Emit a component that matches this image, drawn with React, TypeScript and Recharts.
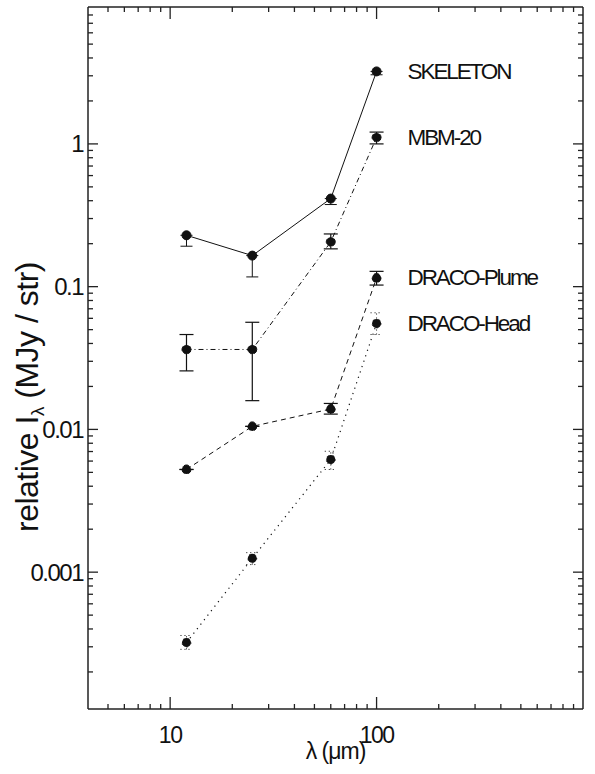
import React from "react";
import { LineChart, Line, XAxis, YAxis, ErrorBar, LabelList } from "recharts";

// wavelengths (µm) and relative intensities
const wavelengths = [12, 25, 60, 100];
const seriesNames = ["SKELETON", "MBM-20", "DRACO-Plume", "DRACO-Head"];

const skeleton = [0.229, 0.165, 0.414, 3.22];
const skeletonLow = [0.192, 0.117, 0.376, 3.05];
const skeletonHigh = [0.229, 0.165, 0.414, 3.22];

const mbm20 = [0.0363, 0.0363, 0.206, 1.11];
const mbm20Low = [0.0257, 0.0159, 0.184, 1.0];
const mbm20High = [0.0462, 0.0563, 0.234, 1.21];

const dracoPlume = [0.00524, 0.0105, 0.0139, 0.115];
const dracoPlumeLow = [0.00524, 0.0105, 0.0128, 0.1026];
const dracoPlumeHigh = [0.00524, 0.0105, 0.0152, 0.128];

const dracoHead = [0.000321, 0.00125, 0.00615, 0.0552];
const dracoHeadLow = [0.000288, 0.00113, 0.00524, 0.0462];
const dracoHeadHigh = [0.00036, 0.00137, 0.00703, 0.0656];

const xTicks = [5, 6, 7, 8, 9, 10, 20, 30, 40, 50, 60, 70, 80, 90, 100, 200, 300, 400, 500, 600, 700, 800, 900];
const xTickLabels: Record<number, string> = { 10: "10", 100: "100" };
const yTicks = [
  0.0002, 0.0003, 0.0004, 0.0005, 0.0006, 0.0007, 0.0008, 0.0009,
  0.001, 0.002, 0.003, 0.004, 0.005, 0.006, 0.007, 0.008, 0.009,
  0.01, 0.02, 0.03, 0.04, 0.05, 0.06, 0.07, 0.08, 0.09,
  0.1, 0.2, 0.3, 0.4, 0.5, 0.6, 0.7, 0.8, 0.9,
  1, 2, 3, 4, 5, 6, 7, 8,
];
const yTickLabels: Record<number, string> = { 0.001: "0.001", 0.01: "0.01", 0.1: "0.1", 1: "1" };

const X_DOMAIN = [4, 1000];
const Y_DOMAIN = [0.00011, 9.1];

const errPair = (v: number, lo: number, hi: number) => [v - lo, hi - v];

const data = wavelengths.map((w, i) => ({
  x: w,
  ske: skeleton[i],
  skeErr: errPair(skeleton[i], skeletonLow[i], skeletonHigh[i]),
  mbm: mbm20[i],
  mbmErr: errPair(mbm20[i], mbm20Low[i], mbm20High[i]),
  plume: dracoPlume[i],
  plumeErr: errPair(dracoPlume[i], dracoPlumeLow[i], dracoPlumeHigh[i]),
  head: dracoHead[i],
  headErr: errPair(dracoHead[i], dracoHeadLow[i], dracoHeadHigh[i]),
}));

const FONT = "'Liberation Sans', Arial, Helvetica, sans-serif";
const INK = "#111";
const AXIS = "#222";

const isMajor = (v: number) => Math.abs(Math.log10(v) - Math.round(Math.log10(v))) < 1e-6;

const BottomTick = ({ x, y, payload }: any) => {
  const v = payload.value;
  const major = isMajor(v);
  return (
    <g>
      <line x1={x} y1={y} x2={x} y2={y - (major ? 12 : 5)} stroke={AXIS} strokeWidth={1.3} />
      {xTickLabels[v] && (
        <text x={x} y={y + 34} textAnchor="middle" fontFamily={FONT} fontSize={23} letterSpacing={-1.5} fill={INK}>
          {xTickLabels[v]}
        </text>
      )}
    </g>
  );
};

const TopTick = ({ x, y, payload }: any) => {
  const major = isMajor(payload.value);
  return <line x1={x} y1={y} x2={x} y2={y + (major ? 12 : 5)} stroke={AXIS} strokeWidth={1.3} />;
};

const LeftTick = ({ x, y, payload }: any) => {
  const v = payload.value;
  const major = isMajor(v);
  return (
    <g>
      <line x1={x} y1={y} x2={x + (major ? 10 : 5)} y2={y} stroke={AXIS} strokeWidth={1.3} />
      {yTickLabels[v] && (
        <text x={x - 5} y={y + 8.5} textAnchor="end" fontFamily={FONT} fontSize={24} letterSpacing={-1.5} fill={INK}>
          {yTickLabels[v]}
        </text>
      )}
    </g>
  );
};

const RightTick = ({ x, y, payload }: any) => {
  const major = isMajor(payload.value);
  return <line x1={x} y1={y} x2={x - (major ? 10 : 5)} y2={y} stroke={AXIS} strokeWidth={1.3} />;
};

const nameLabel = (name: string) => (props: any) => {
  const { x, y, index } = props;
  if (index !== wavelengths.length - 1) return null;
  return (
    <text x={x + 31} y={y + 7.5} fontFamily={FONT} fontSize={22.5} letterSpacing={-2.1} fill={INK}>
      {name}
    </text>
  );
};

const YLabel = () => {
  const cx = 38;
  const cy = 397;
  return (
    <text
      x={cx}
      y={cy}
      transform={`rotate(-90 ${cx} ${cy})`}
      textAnchor="middle"
      fontFamily={FONT}
      fontSize={32}
      letterSpacing={-0.5}
      fill={INK}
    >
      relative I
      <tspan fontSize={19} dy={6}>λ</tspan>
      <tspan dy={-6}> (MJy / str)</tspan>
    </text>
  );
};

const XLabel = ({ viewBox }: any) => {
  const cx = viewBox.x + viewBox.width / 2;
  return (
    <text x={cx} y={viewBox.y + 50} textAnchor="middle" fontFamily={FONT} fontSize={23} letterSpacing={-1} fill={INK}>
      λ (μm)
    </text>
  );
};

const dot = { r: 4.5, fill: INK, stroke: INK, strokeWidth: 1 };

export default function App() {
  return (
    <div style={{ position: "absolute", left: 0, top: 0, background: "#fff" }}>
      <LineChart width={595} height={774} data={data} margin={{ top: 0, right: 0, bottom: 0, left: 0 }}>
        <XAxis
          dataKey="x"
          type="number"
          scale="log"
          domain={X_DOMAIN}
          allowDataOverflow
          ticks={xTicks}
          interval={0}
          height={65}
          tickSize={0}
          tickMargin={0}
          tickLine={false}
          tick={BottomTick}
          axisLine={{ stroke: AXIS, strokeWidth: 1.5 }}
          label={<XLabel />}
        />
        <XAxis
          xAxisId="top"
          orientation="top"
          dataKey="x"
          type="number"
          scale="log"
          domain={X_DOMAIN}
          allowDataOverflow
          ticks={xTicks}
          interval={0}
          height={7}
          tickSize={0}
          tickMargin={0}
          tickLine={false}
          tick={TopTick}
          axisLine={{ stroke: AXIS, strokeWidth: 1.5 }}
        />
        <YAxis
          type="number"
          scale="log"
          domain={Y_DOMAIN}
          allowDataOverflow
          ticks={yTicks}
          interval={0}
          width={88}
          tickSize={0}
          tickMargin={0}
          tickLine={false}
          tick={LeftTick}
          axisLine={{ stroke: AXIS, strokeWidth: 1.5 }}
          label={<YLabel />}
        />
        <YAxis
          yAxisId="right"
          orientation="right"
          type="number"
          scale="log"
          domain={Y_DOMAIN}
          allowDataOverflow
          ticks={yTicks}
          interval={0}
          width={12}
          tickSize={0}
          tickMargin={0}
          tickLine={false}
          tick={RightTick}
          axisLine={{ stroke: AXIS, strokeWidth: 1.5 }}
        />

        <Line dataKey="ske" type="linear" stroke={INK} strokeWidth={1} dot={dot} isAnimationActive={false}>
          <ErrorBar dataKey="skeErr" direction="y" width={6} stroke={INK} strokeWidth={1} />
          <LabelList dataKey="ske" content={nameLabel(seriesNames[0])} />
        </Line>
        <Line dataKey="mbm" type="linear" stroke={INK} strokeWidth={1} strokeDasharray="5 3 1 3" dot={dot} isAnimationActive={false}>
          <ErrorBar dataKey="mbmErr" direction="y" width={7} stroke={INK} strokeWidth={1.2} />
          <LabelList dataKey="mbm" content={nameLabel(seriesNames[1])} />
        </Line>
        <Line dataKey="plume" type="linear" stroke={INK} strokeWidth={1} strokeDasharray="5 4" dot={dot} isAnimationActive={false}>
          <ErrorBar dataKey="plumeErr" direction="y" width={7} stroke={INK} strokeWidth={1.2} />
          <LabelList dataKey="plume" content={nameLabel(seriesNames[2])} />
        </Line>
        <Line dataKey="head" type="linear" stroke={INK} strokeWidth={1.2} strokeDasharray="1.2 4.5" dot={dot} isAnimationActive={false}>
          <ErrorBar dataKey="headErr" direction="y" width={6} stroke={INK} strokeWidth={1} strokeDasharray="1 3" />
          <LabelList dataKey="head" content={nameLabel(seriesNames[3])} />
        </Line>
      </LineChart>
    </div>
  );
}
